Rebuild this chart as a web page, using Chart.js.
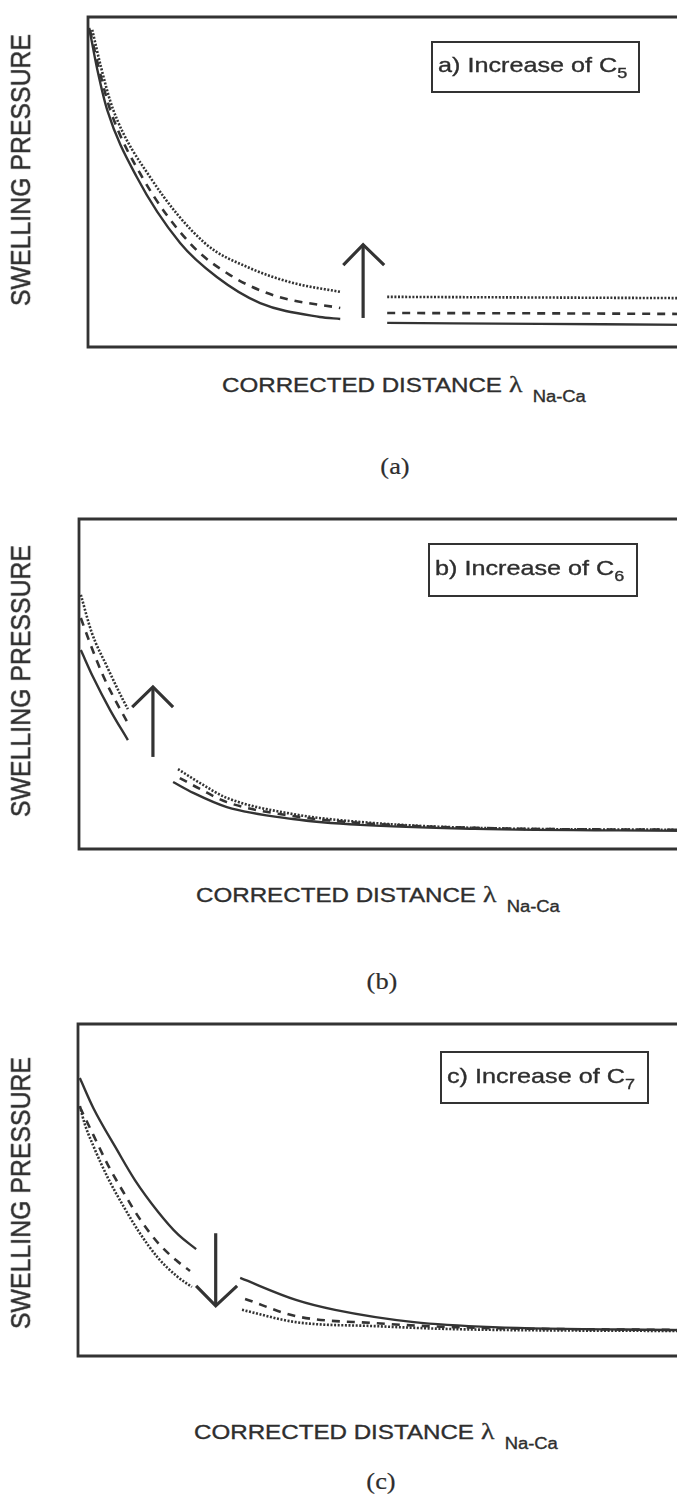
<!DOCTYPE html>
<html>
<head>
<meta charset="utf-8">
<script src="https://cdn.jsdelivr.net/npm/chart.js@4.4.1/dist/chart.umd.min.js"></script>
<style>
html, body { margin: 0; padding: 0; background: #fff; overflow: hidden; }
#page { position: relative; width: 677px; height: 1494px; overflow: hidden; background: #fff; }
.panel { position: absolute; left: 0; width: 720px; }
.txt { position: absolute; white-space: nowrap; color: #2e2e2e; font-family: "Liberation Sans", Arial, sans-serif; line-height: 1; -webkit-text-stroke: 0.35px #2e2e2e; }
.ylab { font-size: 22px; transform: translate(-50%, -50%) rotate(-90deg) scale(1.13, 1.22); }
.xlab { font-size: 21px; transform-origin: left top; transform: scaleX(1.15); }
.xlab .lam { font-family: "Liberation Serif", "DejaVu Serif", serif; font-size: 24px; margin-left: 6px; }
.xlab .sub { font-size: 16px; position: relative; top: 10px; margin-left: 9px; }
.cap { font-family: "Liberation Serif", "Times New Roman", serif; font-size: 24px; -webkit-text-stroke: 0.2px #2e2e2e; transform: translate(-50%, -50%) scaleX(1.1); }
.legend { position: absolute; box-sizing: border-box; border: 2.5px solid #333; display: flex; align-items: center; }
.legend span.t { display: inline-block; font-family: "Liberation Sans", Arial, sans-serif; font-size: 21px; color: #2e2e2e; -webkit-text-stroke: 0.35px #2e2e2e; white-space: nowrap; transform-origin: left center; transform: scaleX(1.2); margin-left: 5px; }
.legend sub { font-size: 15px; vertical-align: -6px; }
</style>
</head>
<body>
<div id="page"></div>
<script>
// x: corrected distance (0 = left frame), y: swelling pressure (0 = bottom frame)

// Panel (a) - increase of C5
const aSolidX  = [0.2, 1.5, 3.2, 8.1, 15.3, 21.4, 28.6, 38.5, 41.9];
const aSolidY  = [96.7, 84.5, 71.8, 51.5, 31.5, 21.2, 13.3, 9.1, 8.5];
const aDashX   = [0.3, 1.8, 3.7, 9.0, 16.9, 23.6, 31.1, 41.9];
const aDashY   = [96.1, 84.5, 71.8, 51.5, 31.5, 21.8, 15.5, 11.8];
const aDotX    = [0.7, 2.2, 4.2, 10.3, 19.4, 26.9, 34.1, 41.9];
const aDotY    = [96.1, 84.5, 71.8, 51.5, 31.5, 23.9, 19.4, 16.7];
const aSolid2X = [49.7, 75, 100];
const aSolid2Y = [7.3, 7.0, 6.7];
const aDash2X  = [49.7, 75, 100];
const aDash2Y  = [10.3, 10.2, 10.0];
const aDot2X   = [49.7, 75, 100];
const aDot2Y   = [15.2, 15.0, 14.8];
const aShaftX  = [45.7, 45.7];
const aShaftY  = [8.8, 31.0];
const aHeadX   = [42.4, 45.7, 49.2];
const aHeadY   = [24.8, 31.0, 24.8];

// Panel (b) - increase of C6
const bSolidX  = [0.3, 2.3, 5.1, 8.0];
const bSolidY  = [60.3, 52.1, 42.1, 33.0];
const bDashX   = [0.3, 1.8, 3.9, 5.9, 7.9];
const bDashY   = [70.0, 62.4, 52.7, 45.2, 38.5];
const bDotX    = [0.3, 2.1, 4.6, 7.2, 8.0];
const bDotY    = [77.0, 65.5, 55.2, 45.2, 42.4];
const bSolid2X = [15.4, 18.7, 24.2, 35.0, 46.0, 64.8, 100];
const bSolid2Y = [20.3, 17.0, 12.7, 9.1, 7.3, 6.1, 5.5];
const bDash2X  = [16.5, 19.8, 24.2, 35.0, 46.0, 64.8, 100];
const bDash2Y  = [21.5, 18.2, 14.2, 10.0, 7.9, 6.4, 5.8];
const bDot2X   = [16.2, 19.8, 24.2, 35.0, 46.0, 64.8, 100];
const bDot2Y   = [24.2, 20.0, 15.5, 10.6, 8.2, 6.4, 5.8];
const bShaftX  = [12.1, 12.1];
const bShaftY  = [27.9, 49.1];
const bHeadX   = [8.7, 12.1, 15.4];
const bHeadY   = [43.0, 49.1, 43.0];

// Panel (c) - increase of C7
const cSolidX  = [0.3, 2.5, 6.4, 9.3, 13.1, 16.3, 19.3];
const cSolidY  = [83.7, 74.7, 62.0, 53.0, 43.4, 36.7, 32.2];
const cDashX   = [0.3, 2.5, 4.9, 7.4, 10.1, 13.1, 16.0, 18.3];
const cDashY   = [75.0, 66.6, 57.5, 49.4, 41.3, 34.0, 28.9, 25.6];
const cDotX    = [0.3, 1.1, 2.5, 4.9, 7.4, 10.0, 13.1, 16.3, 18.6];
const cDotY    = [75.3, 69.9, 63.3, 53.6, 45.2, 37.3, 29.5, 23.8, 20.8];
const cSolid2X = [26.5, 35.6, 42.0, 54.9, 67.8, 100];
const cSolid2Y = [23.5, 16.9, 13.9, 10.2, 8.7, 7.8];
const cDash2X  = [27.3, 35.6, 48.5, 61.3, 100];
const cDash2Y  = [17.2, 12.0, 9.9, 8.7, 7.8];
const cDot2X   = [26.8, 35.6, 48.5, 61.3, 100];
const cDot2Y   = [13.9, 10.2, 9.0, 8.1, 7.5];
const cShaftX  = [22.5, 22.5];
const cShaftY  = [37.0, 15.1];
const cHeadX   = [19.3, 22.5, 26.0];
const cHeadY   = [21.1, 15.1, 21.1];

const ink = '#333333';

const pts = (xs, ys) => xs.map((x, i) => ({ x: x, y: ys[i] }));

const styles = {
    solid: { borderWidth: 2.4, borderDash: [] },
    dash:  { borderWidth: 2.6, borderDash: [8, 7] },
    dot:   { borderWidth: 2.6, borderDash: [2, 1.6] }
};

function curve(xs, ys, kind) {
    return Object.assign({
        data: pts(xs, ys),
        borderColor: ink,
        pointRadius: 0,
        fill: false,
        cubicInterpolationMode: 'monotone'
    }, styles[kind]);
}

function arrow(xs, ys) {
    return { data: pts(xs, ys), borderColor: ink, borderWidth: 3.2, pointRadius: 0, tension: 0, fill: false };
}

// frame: top, left and bottom sides (right side is cut off in the figure)
const framePlugin = {
    id: 'frame',
    afterDatasetsDraw(chart) {
        const { ctx, chartArea: a } = chart;
        ctx.save();
        ctx.strokeStyle = '#333';
        ctx.lineWidth = 2.8;
        ctx.beginPath();
        ctx.moveTo(chart.width, a.top);
        ctx.lineTo(a.left, a.top);
        ctx.lineTo(a.left, a.bottom);
        ctx.lineTo(chart.width, a.bottom);
        ctx.stroke();
        ctx.restore();
    }
};

const panels = [
    { top: 0, height: 360, pad: { left: 88, top: 17, right: 30, bottom: 13 },
      datasets: [
        curve(aSolidX, aSolidY, 'solid'), curve(aDashX, aDashY, 'dash'), curve(aDotX, aDotY, 'dot'),
        curve(aSolid2X, aSolid2Y, 'solid'), curve(aDash2X, aDash2Y, 'dash'), curve(aDot2X, aDot2Y, 'dot'),
        arrow(aShaftX, aShaftY), arrow(aHeadX, aHeadY)
      ],
      ylab: 170, xlab: [222, 372], cap: [395, 466, '(a)'],
      legend: [431, 41, 209, 52, 'a) Increase of C', '5'] },
    { top: 500, height: 360, pad: { left: 79, top: 19, right: 30, bottom: 11 },
      datasets: [
        curve(bSolidX, bSolidY, 'solid'), curve(bDashX, bDashY, 'dash'), curve(bDotX, bDotY, 'dot'),
        curve(bSolid2X, bSolid2Y, 'solid'), curve(bDash2X, bDash2Y, 'dash'), curve(bDot2X, bDot2Y, 'dot'),
        arrow(bShaftX, bShaftY), arrow(bHeadX, bHeadY)
      ],
      ylab: 681, xlab: [196, 882], cap: [382, 981, '(b)'],
      legend: [428, 543, 210, 54, 'b) Increase of C', '6'] },
    { top: 1000, height: 370, pad: { left: 78, top: 24, right: 30, bottom: 14 },
      datasets: [
        curve(cSolidX, cSolidY, 'solid'), curve(cDashX, cDashY, 'dash'), curve(cDotX, cDotY, 'dot'),
        curve(cSolid2X, cSolid2Y, 'solid'), curve(cDash2X, cDash2Y, 'dash'), curve(cDot2X, cDot2Y, 'dot'),
        arrow(cShaftX, cShaftY), arrow(cHeadX, cHeadY)
      ],
      ylab: 1193, xlab: [194, 1419], cap: [381, 1481, '(c)'],
      legend: [440, 1051, 209, 53, 'c) Increase of C', '7'] }
];

const page = document.getElementById('page');

function addDiv(cls, left, top, html) {
    const d = document.createElement('div');
    d.className = cls;
    d.style.left = left + 'px';
    d.style.top = top + 'px';
    d.innerHTML = html;
    page.appendChild(d);
    return d;
}

panels.forEach(p => {
    const wrap = document.createElement('div');
    wrap.className = 'panel';
    wrap.style.top = p.top + 'px';
    wrap.style.height = p.height + 'px';
    const canvas = document.createElement('canvas');
    wrap.appendChild(canvas);
    page.appendChild(wrap);

    new Chart(canvas.getContext('2d'), {
        type: 'line',
        data: { datasets: p.datasets },
        plugins: [framePlugin],
        options: {
            responsive: true,
            maintainAspectRatio: false,
            animation: false,
            layout: { padding: p.pad, autoPadding: false },
            plugins: { legend: { display: false }, tooltip: { enabled: false } },
            scales: {
                x: { type: 'linear', min: 0, max: 100, display: false },
                y: { type: 'linear', min: 0, max: 100, display: false }
            }
        }
    });

    addDiv('txt ylab', 22, p.ylab, 'SWELLING PRESSURE');
    addDiv('txt xlab', p.xlab[0], p.xlab[1],
        'CORRECTED DISTANCE<span class="lam">λ</span><span class="sub">Na-Ca</span>');
    addDiv('txt cap', p.cap[0], p.cap[1], p.cap[2]);

    const lg = p.legend;
    const box = addDiv('legend', lg[0], lg[1], '<span class="t">' + lg[4] + '<sub>' + lg[5] + '</sub></span>');
    box.style.width = lg[2] + 'px';
    box.style.height = lg[3] + 'px';
});
</script>
</body>
</html>
